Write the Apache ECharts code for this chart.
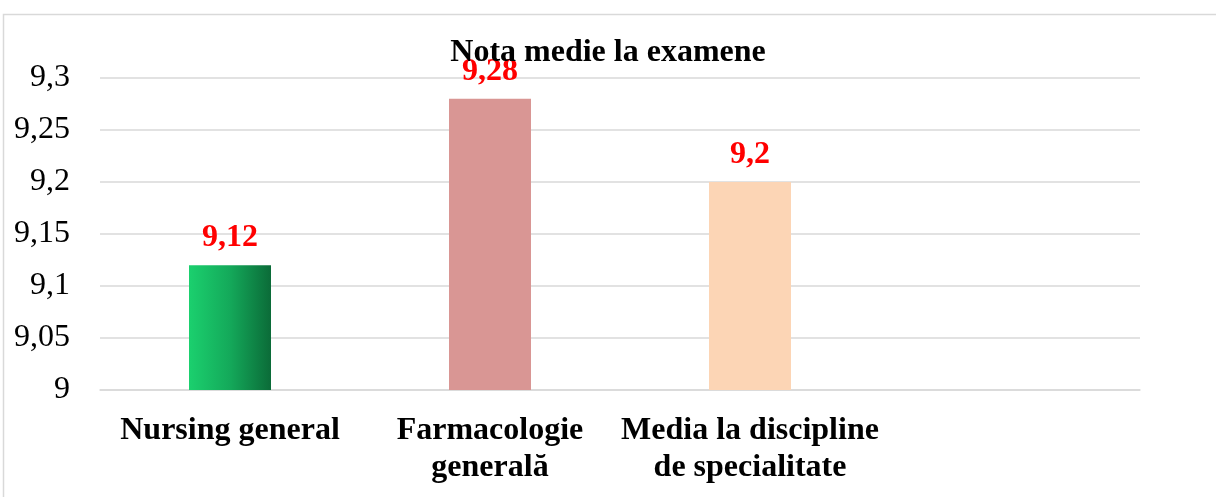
<!DOCTYPE html>
<html>
<head>
<meta charset="utf-8">
<script src="https://cdn.jsdelivr.net/npm/echarts@6/dist/echarts.min.js"></script>
<style>
  html, body { margin: 0; padding: 0; background: #fff; }
  #chart { width: 1216px; height: 497px; }
</style>
</head>
<body>
<div id="chart"></div>
<script>
// categories and values
var categories = ['Nursing general', 'Farmacologie\ngenerală', 'Media la discipline\nde specialitate', ''];
var values = [9.12, 9.28, 9.2, null];
var barColors = [
    new echarts.graphic.LinearGradient(0, 0, 1, 0, [
        { offset: 0, color: '#1bd06e' },
        { offset: 0.5, color: '#14a95a' },
        { offset: 1, color: '#0b6b38' }
    ]),
    '#d99694',
    '#fcd5b5',
    '#cccccc'
];

var myChart = echarts.init(document.getElementById('chart'));
var fmt = function (v) { return String(v).replace('.', ','); };

var option = {
    animation: false,
    title: {
        text: 'Nota medie la examene',
        left: 'center',
        top: 32,
        textStyle: { fontFamily: 'Liberation Serif', fontSize: 32, fontWeight: 'bold', color: '#000' }
    },
    graphic: [{
        type: 'rect',
        shape: { x: 3.5, y: 14.5, width: 1230, height: 500 },
        style: { fill: 'none', stroke: '#d9d9d9', lineWidth: 1.5 },
        silent: true
    }],
    grid: { left: 100, right: 76, top: 78, bottom: 107 },
    xAxis: {
        type: 'category',
        data: categories,
        axisLine: { show: true, lineStyle: { color: '#d9d9d9', width: 1.5 } },
        axisTick: { show: false },
        axisLabel: {
            interval: 0,
            margin: 22,
            fontFamily: 'Liberation Serif',
            fontSize: 32,
            fontWeight: 'bold',
            color: '#000',
            lineHeight: 37
        }
    },
    yAxis: {
        type: 'value',
        min: 9,
        max: 9.3,
        interval: 0.05,
        axisLine: { show: false },
        axisTick: { show: false },
        splitLine: { lineStyle: { color: '#d9d9d9', width: 1.5 } },
        axisLabel: {
            margin: 30,
            fontFamily: 'Liberation Serif',
            fontSize: 32,
            color: '#000',
            formatter: function (v) { return fmt(+v.toFixed(2)); }
        }
    },
    series: [{
        type: 'bar',
        barWidth: 82,
        data: values.map(function (v, i) {
            return { value: v, itemStyle: { color: barColors[i] } };
        }),
        label: {
            show: true,
            position: 'top',
            distance: 11,
            fontFamily: 'Liberation Serif',
            fontSize: 32,
            fontWeight: 'bold',
            color: '#ff0000',
            formatter: function (p) { return fmt(p.value); }
        }
    }]
};
myChart.setOption(option);
</script>
</body>
</html>
